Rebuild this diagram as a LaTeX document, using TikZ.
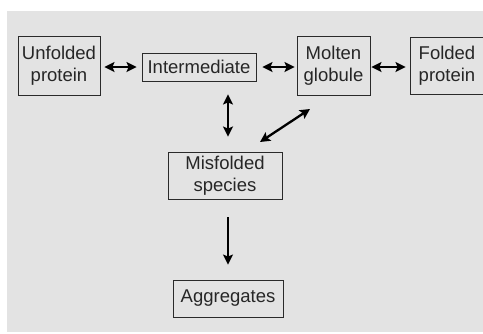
\documentclass[tikz,border=0pt]{standalone}
\usepackage{fontspec}
\setmainfont{Liberation Sans}
\usetikzlibrary{arrows.meta,calc}
\definecolor{bggray}{HTML}{E3E3E3}
\definecolor{edgegray}{HTML}{2A2A2A}
\begin{document}
\begin{tikzpicture}[x=1pt,y=-1pt,
  box/.style={draw=edgegray,line width=0.9pt,inner sep=0pt,align=center,
    font=\fontsize{18.5}{22}\selectfont,text=black!85},
  dbl/.style={{Stealth[length=10pt,width=10pt,inset=2pt]}-{Stealth[length=10pt,width=10pt,inset=2pt]},line width=2.3pt},
  sgl/.style={-{Stealth[length=10pt,width=10pt,inset=2pt]},line width=1.9pt}]
\useasboundingbox (0,0) rectangle (483,333);
\fill[bggray] (7,11) rectangle (483,332);
\node[box,minimum width=82pt,minimum height=59pt] (U) at (59,65.5) {Unfolded\\protein};
\node[box,minimum width=114pt,minimum height=28pt] (I) at (199,67) {Intermediate};
\node[box,minimum width=73pt,minimum height=59pt] (M) at (333.5,65.5) {Molten\\globule};
\node[box,minimum width=74pt,minimum height=57pt] (F) at (447,65.5) {Folded\\protein};
\node[box,minimum width=114pt,minimum height=47pt] (S) at (225,175.5) {Misfolded\\species};
\node[box,minimum width=110pt,minimum height=37pt] (A) at (228,298.5) {Aggregates};
\coordinate (d1) at (260,142);
\coordinate (d2) at (310,109);
\draw[dbl,shorten <=4pt,shorten >=5pt] (U.east |- I.west) -- (I.west);
\draw[dbl,shorten <=6pt,shorten >=2pt] (I.east) -- (M.west |- I.east);
\draw[dbl,shorten <=1pt,shorten >=4pt] (M.east |- I.east) -- (F.west |- I.east);
\draw[dbl,shorten <=13pt,shorten >=15pt] (A |- I.south) -- (A |- S.north);
\draw[dbl] (d1) -- (d2);
\draw[sgl,shorten <=18pt,shorten >=15pt] (A |- S.south) -- (A.north);
\end{tikzpicture}
\end{document}
